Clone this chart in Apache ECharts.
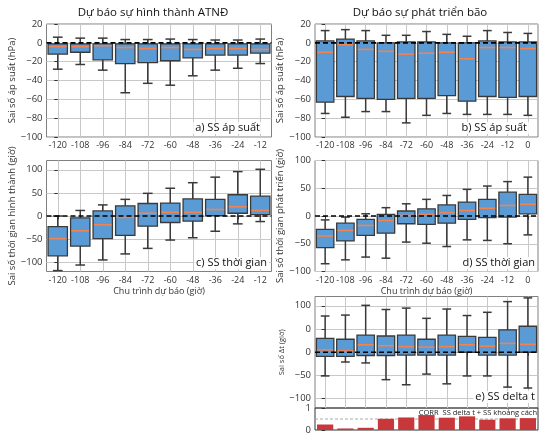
<!DOCTYPE html>
<html><head><meta charset="utf-8">
<script src="https://cdn.jsdelivr.net/npm/echarts@6/dist/echarts.min.js"></script>
<style>html,body{margin:0;padding:0;background:#fff}#c{width:539px;height:435px}</style>
</head><body><div id="c"></div>
<script>
// ---------- data ----------
const catsGen = ['-120','-108','-96','-84','-72','-60','-48','-36','-24','-12'];
const catsDev = ['-120','-108','-96','-84','-72','-60','-48','-36','-24','-12','0'];
// box = [low whisker, Q1, median, Q3, high whisker]
const pressureGen = [
  [-28,-12,-4,-1,6],[-23,-10,-4,-1,5],[-29,-18,-3,-1,5],[-53,-22,-5,-1,3.5],[-43,-21,-6,-1,3.5],
  [-45,-19,-5,-1,4],[-35,-16,-7,-1,3.5],[-29,-13,-6,-1,3],[-27,-13,-6,-1,3],[-22,-11,-7,-1,4]
];
const pressureDev = [
  [-75,-63,-10,2,13],[-79,-57,-2,4,14],[-73,-59,-7,2,13],[-73,-60,-9,0,8],[-85,-59,-12,1,8],
  [-77,-59,-11,1,12],[-75,-56,-10,0,9],[-76,-62,-17,0,7],[-76,-57,-5,2,13],[-76,-58,-5,1,11],[-77,-57,-6,1,10]
];
const timeGen = [
  [-118,-86,-49,-23,0],[-106,-65,-32,-4,12],[-95,-49,-19,11,24],[-82,-42,-3,22,36],[-70,-22,6,27,49],
  [-52,-14,8,28,60],[-47,-11,8,37,72],[-33,1,14,36,84],[-17,6,20,46,96],[-12,3,12,43,101]
];
const timeDev = [
  [-86,-57,-36,-24,-7],[-79,-45,-26,-13,-2],[-74,-35,-17,-6,4],[-76,-31,-8,3,15],[-47,-14,1,9,22],
  [-49,-15,3,13,30],[-55,-13,6,20,37],[-43,-6,10,25,48],[-44,-3,14,30,54],[-50,-2,19,43,62],[-34,4,21,39,70]
];
const deltaT = [
  [-51,-9,5,30,78],[-21,-9,3,28,80],[-23,-7,16,37,101],[-59,-7,14,35,92],[-70,-6,12,37,95],
  [-47,-6,11,28,73],[-68,-6,12,37,93],[-51,0,16,34,79],[-51,-6,13,32,86],[-75,-6,19,48,109],[-77,0,17,56,117]
];
const corrDelta = [0.25,0.07,0.10,0.51,0.57,0.68,0.56,0.62,0.47,0.53,0.54];
const yTicksPressure = [-100,-80,-60,-40,-20,0,20];
const yTicksTime = [-100,-50,0,50,100];
const yTicksDelta = [-100,-50,0,50,100];
const yTickLabelsDelta = ['−100','−50','0','0','100'];
const yTicksCorr = [0,1];

// ---------- style ----------
const TICKF = 'Open Sans';
const gridCol = '#c8c8c8';
const boxFill = '#5b9bd5';
const edge = '#3a3a3a';
const medCol = '#f2824f';
const fmtMinus = v => String(v).replace('-', '−');

function boxRender(params, api){
  const x = api.value(0);
  const low = api.coord([x, api.value(1)]);
  const q1 = api.coord([x, api.value(2)]);
  const med = api.coord([x, api.value(3)]);
  const q3 = api.coord([x, api.value(4)]);
  const high = api.coord([x, api.value(5)]);
  const bw = api.size([1,0])[0]*0.86;
  const cw = bw*0.5;
  const cx = low[0];
  const ls = {stroke: edge, lineWidth: 1.5};
  return {type:'group', children:[
    {type:'line', shape:{x1:cx,y1:high[1],x2:cx,y2:q3[1]}, style:ls},
    {type:'line', shape:{x1:cx,y1:q1[1],x2:cx,y2:low[1]}, style:ls},
    {type:'line', shape:{x1:cx-cw/2,y1:high[1],x2:cx+cw/2,y2:high[1]}, style:ls},
    {type:'line', shape:{x1:cx-cw/2,y1:low[1],x2:cx+cw/2,y2:low[1]}, style:ls},
    {type:'rect', shape:{x:cx-bw/2,y:q3[1],width:bw,height:q1[1]-q3[1]}, style:{fill:boxFill, stroke:edge, lineWidth:1.3}},
    {type:'line', shape:{x1:cx-bw/2+0.8,y1:med[1],x2:cx+bw/2-0.8,y2:med[1]}, style:{stroke:medCol, lineWidth:1.6}}
  ]};
}
function barRender(params, api){
  const x = api.value(0);
  const p0 = api.coord([x, 0]);
  const p1 = api.coord([x, api.value(1)]);
  const bw = api.size([1,0])[0]*0.8;
  return {type:'rect', shape:{x:p0[0]-bw/2, y:p1[1], width:bw, height:p0[1]-p1[1]}, style:{fill:'#c8383b'}};
}

const grids = [
  {left:46.5, top:24, width:225, height:113},
  {left:315, top:24, width:223, height:113},
  {left:46.5, top:160.5, width:225, height:111},
  {left:315, top:160.5, width:223, height:111},
  {left:315, top:296.5, width:223, height:111.5},
  {left:315, top:408, width:223, height:23.5}
].map(g => Object.assign({show:true, borderColor:'#808080', borderWidth:1, backgroundColor:'transparent', containLabel:false}, g));
grids[5].borderColor = '#333';

function xAxis(gi, cats, showLabels, showTicks, showSplit, name){
  const idx = cats.map((c,i)=>i);
  return {
    type:'value', gridIndex:gi, min:-0.5, max:cats.length-0.5,
    axisLine:{show:false},
    axisTick:{show:showTicks, customValues:idx, length:3.5, lineStyle:{color:'#333'}},
    axisLabel:{show:showLabels, customValues:idx, formatter:v=>cats[Math.round(v)], fontFamily:TICKF, fontSize:9, color:'#333', margin:4},
    splitLine:{show:showSplit, lineStyle:{color:gridCol, width:1}},
    name: name || '', nameLocation:'middle', nameGap:15,
    nameTextStyle:{fontFamily:TICKF, fontSize:9, color:'#333'}
  };
}
function yAxis(gi, min, max, ticks, labels, name, nameSize, nameGap, split){
  return {
    type:'value', gridIndex:gi, min:min, max:max,
    axisLine:{show:false},
    axisTick:{show:true, customValues:ticks, length:3.5, lineStyle:{color:'#333'}},
    axisLabel:{customValues:ticks, formatter: v => labels ? labels[ticks.indexOf(v)] : fmtMinus(v), fontFamily:TICKF, fontSize:9.5, color:'#333', margin:4},
    splitLine:{show:split, lineStyle:{color:gridCol, width:1}},
    name:name, nameLocation:'middle', nameGap:nameGap,
    nameTextStyle:{fontFamily:TICKF, fontSize:nameSize, color:'#333'}
  };
}

const xAxes = [
  xAxis(0, catsGen, true, true, true),
  xAxis(1, catsDev, true, true, true),
  xAxis(2, catsGen, true, true, true, 'Chu trình dự báo (giờ)'),
  xAxis(3, catsDev, true, true, true, 'Chu trình dự báo (giờ)'),
  xAxis(4, catsDev, false, true, true),
  xAxis(5, catsDev, false, false, false)
];
const yAxes = [
  yAxis(0, -100, 20, yTicksPressure, null, 'Sai số áp suất (hPa)', 9.5, 27, true),
  yAxis(1, -100, 20, yTicksPressure, null, 'Sai số áp suất (hPa)', 9.5, 27, true),
  yAxis(2, -120, 120, yTicksTime, null, 'Sai số thời gian hình thành (giờ)', 9.5, 27, true),
  yAxis(3, -100, 100, yTicksTime, null, 'Sai số thời gian phát triển (giờ)', 9.5, 27, true),
  yAxis(4, -120, 120, yTicksDelta, yTickLabelsDelta, 'Sai số Δt (giờ)', 7.5, 25, true),
  yAxis(5, 0, 1, yTicksCorr, null, '', 8, 20, false)
];

const boxSets = [pressureGen, pressureDev, timeGen, timeDev, deltaT];
const series = [];
boxSets.forEach((set, gi) => {
  series.push({
    type:'custom', xAxisIndex:gi, yAxisIndex:gi, renderItem:boxRender,
    data: set.map((b,i)=>[i].concat(b)), encode:{x:0, y:[1,2,3,4,5]}, z:3, silent:true
  });
  series.push({
    type:'line', xAxisIndex:gi, yAxisIndex:gi, data:[[-0.5,0],[set.length-0.5,0]],
    showSymbol:false, symbol:'none', lineStyle:{color:'#000', width:1.6, type:[5,3]}, z:5, silent:true
  });
});
series.push({
  type:'line', xAxisIndex:5, yAxisIndex:5, data:[[-0.5,0.5],[corrDelta.length-0.5,0.5]],
  showSymbol:false, symbol:'none', lineStyle:{color:'#aaa', width:1, type:[3,2]}, z:1, silent:true
});
series.push({
  type:'custom', xAxisIndex:5, yAxisIndex:5, renderItem:barRender,
  data: corrDelta.map((v,i)=>[i,v]), encode:{x:0, y:1}, z:3, silent:true
});

const lblStyle = (text, x, y, size) => ({
  type:'text', x:x, y:y, z:20,
  style:{text:text, fontFamily:'Open Sans', fontSize:size, fill:'#111', align:'right', verticalAlign:'middle',
    backgroundColor:'rgba(255,255,255,0.85)', padding:[1,2,0,2]}
});
const graphic = [
  {type:'text', x:153, y:13, style:{text:'Dự báo sự hình thành ATNĐ', fontFamily:'Open Sans', fontSize:11.5, fill:'#111', align:'center', verticalAlign:'middle'}},
  {type:'text', x:420, y:13, style:{text:'Dự báo sự phát triển bão', fontFamily:'Open Sans', fontSize:11.5, fill:'#111', align:'center', verticalAlign:'middle'}},
  lblStyle('a) SS áp suất', 262, 128, 11),
  lblStyle('b) SS áp suất', 529, 128, 11),
  lblStyle('c) SS thời gian', 269, 263, 11),
  lblStyle('d) SS thời gian', 537, 263, 11),
  lblStyle('e) SS delta t', 537, 397, 11),
  {type:'text', x:537, y:413, z:20, style:{text:'CORR  SS delta t + SS khoảng cách', fontFamily:'Open Sans', fontSize:7.5, fill:'#222', align:'right', verticalAlign:'middle'}}
];

const chart = echarts.init(document.getElementById('c'), null, {renderer:'canvas'});
chart.setOption({
  animation:false, backgroundColor:'#fff',
  grid:grids, xAxis:xAxes, yAxis:yAxes, series:series, graphic:graphic
});
</script>
</body></html>
